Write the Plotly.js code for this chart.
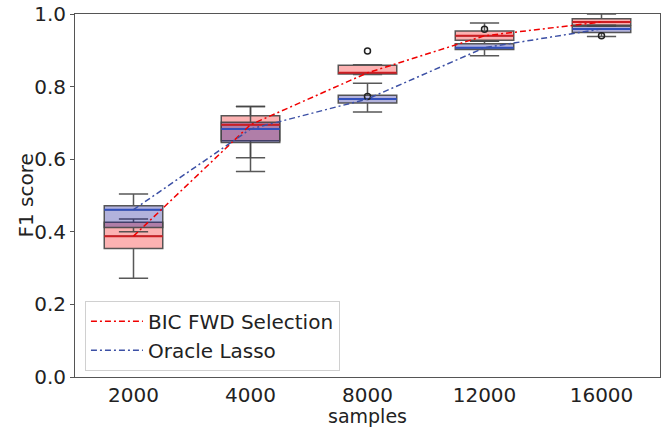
<!DOCTYPE html>
<html>
<head>
<meta charset="utf-8">
<script src="https://cdn.plot.ly/plotly-3.0.1.min.js"></script>
<style>html,body{margin:0;padding:0;background:#fff;}#chart{width:668px;height:428px;}</style>
</head>
<body>
<div id="chart"></div>
<script>
const samples = ["2000", "4000", "8000", "12000", "16000"];

// BIC FWD Selection (red)
const bicLow    = [0.272, 0.566, 0.833, 0.925, 0.966];
const bicQ1     = [0.354, 0.651, 0.835, 0.928, 0.969];
const bicMedian = [0.388, 0.695, 0.838, 0.940, 0.978];
const bicQ3     = [0.426, 0.720, 0.859, 0.953, 0.987];
const bicHigh   = [0.435, 0.745, 0.860, 0.975, 1.000];
const bicOutX   = ["8000", "8000", "16000"];
const bicOutY   = [0.898, 0.773, 0.940];

// Oracle Lasso (blue)
const lassoLow    = [0.400, 0.604, 0.730, 0.885, 0.938];
const lassoQ1     = [0.412, 0.646, 0.755, 0.902, 0.949];
const lassoMedian = [0.461, 0.683, 0.766, 0.907, 0.959];
const lassoQ3     = [0.472, 0.702, 0.776, 0.918, 0.966];
const lassoHigh   = [0.504, 0.745, 0.809, 0.925, 0.969];
const lassoOutX   = ["12000"];
const lassoOutY   = [0.958];

const xTitle = 'samples';
const yTitle = 'F1 score';

const edge = 'rgba(70,70,70,0.9)';
function boxTrace(lo, q1, med, q3, hi, fill) {
  return {type: 'box', x: samples, lowerfence: lo, q1: q1, median: med, q3: q3, upperfence: hi,
    boxpoints: false, width: 0.5, whiskerwidth: 0.5, fillcolor: fill,
    line: {color: edge, width: 1.5}, showlegend: false, hoverinfo: 'skip'};
}
function medTrace(med, color) {
  return {type: 'box', x: samples, lowerfence: med, q1: med, median: med, q3: med, upperfence: med,
    boxpoints: false, width: 0.5, whiskerwidth: 0, fillcolor: 'rgba(0,0,0,0)',
    line: {color: color, width: 2}, showlegend: false, hoverinfo: 'skip'};
}
function outTrace(x, y) {
  return {type: 'scatter', mode: 'markers', x: x, y: y, showlegend: false,
    marker: {symbol: 'circle-open', size: 6, color: '#222', line: {width: 1.5, color: '#222'}}};
}

const data = [
  boxTrace(bicLow, bicQ1, bicMedian, bicQ3, bicHigh, 'rgba(245,0,0,0.3)'),
  boxTrace(lassoLow, lassoQ1, lassoMedian, lassoQ3, lassoHigh, 'rgba(20,20,150,0.33)'),
  medTrace(bicMedian, 'rgb(205,30,35)'),
  medTrace(lassoMedian, 'rgb(50,80,190)'),
  outTrace(bicOutX, bicOutY),
  outTrace(lassoOutX, lassoOutY),
  {type: 'scatter', mode: 'lines', name: 'BIC FWD Selection', x: samples, y: bicMedian,
    line: {color: 'rgb(240,0,0)', width: 1.5, dash: '6px,3px,2px,3px'}},
  {type: 'scatter', mode: 'lines', name: 'Oracle Lasso', x: samples, y: lassoMedian,
    line: {color: 'rgb(60,80,165)', width: 1.5, dash: '6px,3px,2px,3px'}}
];

const font = {family: 'DejaVu Sans', size: 20, color: '#222'};
const titleFont = {family: 'DejaVu Sans', size: 19, color: '#222'};
const layout = {
  width: 668, height: 428,
  margin: {l: 75, r: 8, t: 14, b: 51},
  paper_bgcolor: '#fff', plot_bgcolor: '#fff',
  font: font,
  boxmode: 'overlay',
  showlegend: true,
  legend: {x: 0.017, y: 0.21, xanchor: 'left', yanchor: 'top', bgcolor: 'rgba(255,255,255,0.9)',
    bordercolor: '#d0d0d0', borderwidth: 1, font: font, itemwidth: 52},
  xaxis: {type: 'category', categoryorder: 'array', categoryarray: samples, range: [-0.5, 4.5],
    showgrid: false, zeroline: false, showline: true, mirror: true, linecolor: '#555', linewidth: 1,
    ticks: '', tickfont: font},
  yaxis: {range: [0, 1], dtick: 0.2, tickformat: '.1f',
    showgrid: false, zeroline: false, showline: true, mirror: true, linecolor: '#555', linewidth: 1,
    ticks: 'outside', ticklen: 4, tickcolor: '#555', tickfont: font},
  annotations: [
    {text: xTitle, xref: 'paper', yref: 'paper', x: 0.5, y: 0, xanchor: 'center', yanchor: 'middle',
      yshift: -39, showarrow: false, font: titleFont},
    {text: yTitle, xref: 'paper', yref: 'paper', x: 0, y: 0.5, xanchor: 'center', yanchor: 'middle',
      xshift: -50, textangle: -90, showarrow: false, font: font}
  ]
};

Plotly.newPlot('chart', data, layout, {displayModeBar: false, staticPlot: true});
</script>
</body>
</html>
